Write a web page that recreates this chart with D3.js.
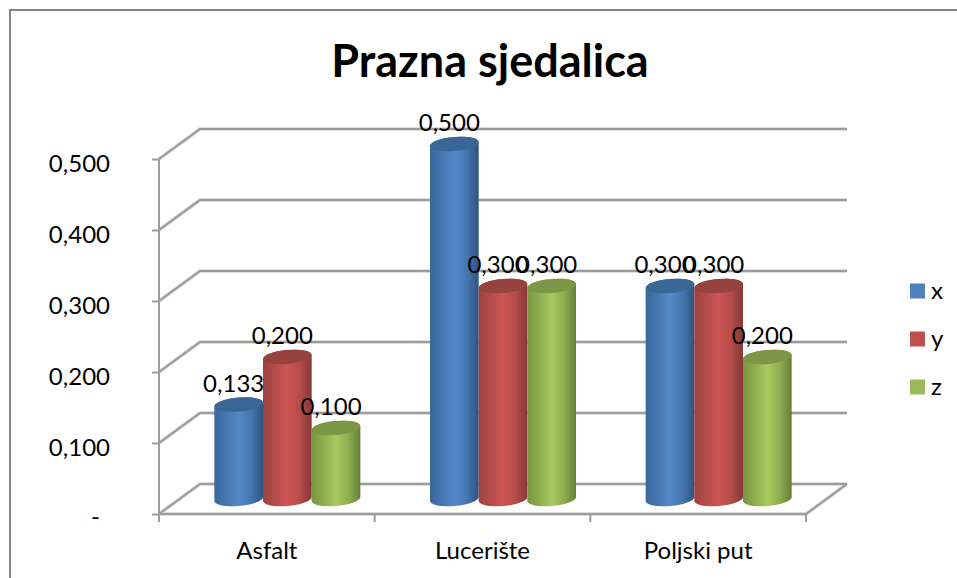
<!DOCTYPE html>
<html>
<head>
<meta charset="utf-8">
<script src="https://cdn.jsdelivr.net/npm/d3@7"></script>
<style>
    html, body { margin: 0; padding: 0; background: #fff; overflow: hidden; }
    text { font-family: Lato, "Noto Sans", sans-serif; fill: #000; }
</style>
</head>
<body>
<div id="wrapper"></div>
<script>
const categories = ["Asfalt", "Lucerište", "Poljski put"]
const seriesNames = ["x", "y", "z"]
const xValues = [0.133, 0.5, 0.3]
const yValues = [0.2, 0.3, 0.3]
const zValues = [0.1, 0.3, 0.2]
const yTicks = [0, 0.1, 0.2, 0.3, 0.4, 0.5]
const seriesValues = [xValues, yValues, zValues]

const legendColors = ["#4f81bd", "#c0504d", "#9bbb59"]
// left edge, shoulder, centre, shoulder, right edge, top cap
const barShades = [
    ["#38679c", "#4677b0", "#5289cb", "#4677b0", "#2c5480", "#3a6696"],
    ["#9c4240", "#b44c4a", "#cf5553", "#b44c4a", "#863836", "#96423f"],
    ["#789640", "#8fae50", "#a8ca5e", "#8fae50", "#647f36", "#7b9644"],
]
const shadeStops = ["0%", "25%", "50%", "75%", "100%"]

const width = 957
const height = 578
const plot = { left: 159, right: 806, top: 159, bottom: 514 }
const depth = { x: 41, y: 30 }
const gridColor = "#9c9c9c"
const gridHalo = "#d4d4d4"
const labelSize = 24

const wrapper = d3.select("#wrapper")
    .append("svg")
    .attr("width", width)
    .attr("height", height)

const defs = wrapper.append("defs")
barShades.forEach((shade, i) => {
    defs.append("linearGradient").attr("id", `bar${i}`)
        .selectAll("stop")
        .data(shadeStops)
        .join("stop")
        .attr("offset", d => d)
        .attr("stop-color", (d, j) => shade[j])
})

// chart frame: the picture is cropped, only its top and left edges show
wrapper.append("path")
    .attr("d", `M10,${height}V10H${width}`)
    .attr("fill", "none")
    .attr("stroke", "#868686")
    .attr("stroke-width", 2)

wrapper.append("text")
    .attr("x", 490).attr("y", 77)
    .attr("text-anchor", "middle")
    .style("font-size", "45px")
    .style("font-weight", 700)
    .text("Prazna sjedalica")

// Scales
const yScale = d3.scaleLinear()
    .domain([0, 0.5])
    .range([plot.bottom, plot.top])

const xScale = d3.scaleBand()
    .domain(categories)
    .range([plot.left, plot.right])

const seriesScale = d3.scaleBand()
    .domain(seriesNames)
    .range([0, 146])

// Walls: each grid line goes from the front axis back and then across
const wallPath = v => {
    const y = yScale(v)
    return `M${plot.left},${y}L${plot.left + depth.x},${y - depth.y}L${plot.right + depth.x},${y - depth.y}`
}
const floorPath = `M${plot.left},${plot.bottom}L${plot.right},${plot.bottom}L${plot.right + depth.x},${plot.bottom - depth.y}`

// soft halo first, the line itself on top
const drawWall = (color, strokeWidth) => {
    const wall = wrapper.append("g")
        .attr("fill", "none")
        .attr("stroke", color)
        .attr("stroke-width", strokeWidth)
    wall.selectAll("path.grid")
        .data(yTicks)
        .join("path")
        .attr("class", "grid")
        .attr("d", wallPath)
    wall.append("path").attr("d", floorPath)
}
drawWall(gridHalo, 3.5)
drawWall(gridColor, 2)

// y axis
const yAxis = wrapper.append("g")
    .attr("transform", `translate(${plot.left},0)`)
    .call(d3.axisLeft(yScale)
        .tickValues(yTicks)
        .tickSize(7)
        .tickPadding(42)
        .tickFormat(d => d === 0 ? "-" : d3.format(".3f")(d).replace(".", ",")))
yAxis.selectAll("path, line").attr("stroke", gridColor).attr("stroke-width", 2)
yAxis.select(".domain").attr("d", `M0,${plot.top}V${plot.bottom}`)
yAxis.selectAll("text")
    .attr("font-family", null)
    .style("font-size", `${labelSize}px`)
    .attr("dy", d => d === 0 ? "0.42em" : "0.5em")
    .attr("dx", d => d === 0 ? -10 : 0)

// x axis: labels come from the band scale, ticks sit on the band edges
const xAxis = wrapper.append("g")
    .attr("transform", `translate(0,${plot.bottom})`)
    .call(d3.axisBottom(xScale).tickSize(0).tickPadding(28))
xAxis.select(".domain").remove()
xAxis.selectAll("text")
    .style("font-size", "24px")
    .attr("font-family", null)

wrapper.append("g").selectAll("line")
    .data([...categories.map(c => xScale(c)), plot.right])
    .join("line")
    .attr("x1", d => d).attr("x2", d => d)
    .attr("y1", plot.bottom).attr("y2", plot.bottom + 8)
    .attr("stroke", gridColor)
    .attr("stroke-width", 2)

// Cylinders
const rx = seriesScale.bandwidth() / 2
const ry = 7
const tilt = 2
const barX = (c, s) => xScale(c) + (xScale.bandwidth() - 146) / 2 + depth.x / 2 + seriesScale(s)
const baseY = yScale(0) - depth.y / 2
const topY = v => yScale(v) - depth.y / 2

seriesNames.forEach((s, si) => {
    const bars = wrapper.append("g").selectAll("g")
        .data(categories.map((c, ci) => ({ c, v: seriesValues[si][ci] })))
        .join("g")

    bars.append("path")
        .attr("fill", `url(#bar${si})`)
        .attr("d", d => {
            const x0 = barX(d.c, s)
            const x1 = x0 + seriesScale.bandwidth()
            return `M${x0},${topY(d.v) + tilt}L${x0},${baseY + tilt}`
                + `A${rx},${ry} -5 0 0 ${x1},${baseY - tilt}`
                + `L${x1},${topY(d.v) - tilt}`
                + `A${rx},${ry} -5 0 0 ${x0},${topY(d.v) + tilt}Z`
        })

    bars.append("ellipse")
        .attr("fill", barShades[si][5])
        .attr("rx", rx)
        .attr("ry", ry)
        .attr("transform", d => `translate(${barX(d.c, s) + rx},${topY(d.v)}) rotate(-5)`)
})

// Data labels go on top of every bar
seriesNames.forEach((s, si) => {
    wrapper.append("g").selectAll("text")
        .data(categories.map((c, ci) => ({ c, v: seriesValues[si][ci] })))
        .join("text")
        .attr("x", d => barX(d.c, s) + rx - 5)
        .attr("y", d => topY(d.v) - 13)
        .attr("text-anchor", "middle")
        .style("font-size", `${labelSize}px`)
        .text(d => d3.format(".3f")(d.v).replace(".", ","))
})

// Legend
const legendY = d3.scalePoint()
    .domain(seriesNames)
    .range([291, 387])

const legend = wrapper.append("g").selectAll("g")
    .data(seriesNames)
    .join("g")
    .attr("transform", d => `translate(910,${legendY(d)})`)

legend.append("rect")
    .attr("y", -7.5)
    .attr("width", 15)
    .attr("height", 15)
    .attr("fill", (d, i) => legendColors[i])

legend.append("text")
    .attr("x", 21)
    .attr("y", 8)
    .style("font-size", "24px")
    .text(d => d)
</script>
</body>
</html>
